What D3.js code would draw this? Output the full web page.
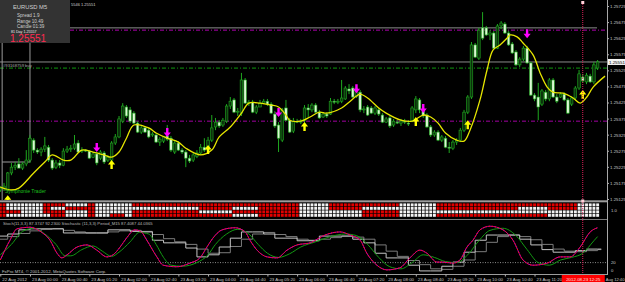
<!DOCTYPE html>
<html>
<head>
<meta charset="utf-8">
<script src="https://cdnjs.cloudflare.com/ajax/libs/d3/7.8.5/d3.min.js"></script>
<style>
  body { margin: 0; background: #000; }
  svg { display: block; font-family: 'Liberation Sans', Arial, sans-serif; }
</style>
</head>
<body>
<svg id="chart" width="625" height="282"></svg>
<script>
// EURUSD M5, 22 Aug 23:20 .. 23 Aug 12:45
const open = [
  1.25153,1.25159,1.25153,1.25206,1.25224,1.25234,1.25221,1.25234,1.25246,1.25308,
  1.25277,1.25271,1.25280,1.25286,1.25246,1.25224,1.25237,1.25230,1.25274,1.25280,
  1.25283,1.25299,1.25274,1.25277,1.25274,1.25255,1.25265,1.25252,1.25268,1.25246,
  1.25246,1.25299,1.25318,1.25367,1.25411,1.25402,1.25392,1.25361,1.25333,1.25346,
  1.25339,1.25324,1.25324,1.25302,1.25305,1.25321,1.25314,1.25271,1.25299,1.25277,
  1.25271,1.25252,1.25246,1.25258,1.25268,1.25286,1.25277,1.25308,1.25349,1.25364,
  1.25355,1.25367,1.25414,1.25433,1.25395,1.25392,1.25495,1.25423,1.25426,1.25395,
  1.25411,1.25423,1.25429,1.25420,1.25389,1.25355,1.25308,1.25408,1.25370,1.25336,
  1.25367,1.25364,1.25370,1.25408,1.25402,1.25417,1.25395,1.25380,1.25389,1.25389,
  1.25429,1.25426,1.25429,1.25436,1.25467,1.25470,1.25445,1.25457,1.25402,1.25411,
  1.25408,1.25392,1.25402,1.25386,1.25364,1.25377,1.25355,1.25364,1.25361,1.25367,
  1.25361,1.25367,1.25402,1.25433,1.25402,1.25386,1.25349,1.25324,1.25333,1.25308,
  1.25314,1.25286,1.25283,1.25302,1.25308,1.25339,1.25395,1.25442,1.25604,1.25563,
  1.25657,1.25657,1.25635,1.25641,1.25594,1.25663,1.25669,1.25641,1.25607,1.25582,
  1.25542,1.25560,1.25594,1.25548,1.25448,1.25442,1.25420,1.25457,1.25436,1.25495,
  1.25442,1.25442,1.25451,1.25433,1.25420,1.25439,1.25470,1.25504,1.25489,1.25507,
  1.25489,1.25532
];
const high = [
  1.25165,1.25175,1.25209,1.25237,1.25240,1.25252,1.25240,1.25277,1.25324,1.25314,
  1.25283,1.25286,1.25318,1.25293,1.25252,1.25246,1.25246,1.25283,1.25290,1.25293,
  1.25324,1.25308,1.25286,1.25280,1.25277,1.25271,1.25271,1.25277,1.25274,1.25262,
  1.25305,1.25327,1.25383,1.25423,1.25417,1.25411,1.25398,1.25367,1.25352,1.25352,
  1.25346,1.25333,1.25330,1.25318,1.25321,1.25355,1.25321,1.25305,1.25305,1.25283,
  1.25277,1.25262,1.25268,1.25277,1.25296,1.25314,1.25318,1.25386,1.25377,1.25370,
  1.25377,1.25420,1.25442,1.25439,1.25408,1.25517,1.25501,1.25433,1.25433,1.25417,
  1.25433,1.25436,1.25436,1.25426,1.25398,1.25364,1.25408,1.25433,1.25377,1.25377,
  1.25374,1.25374,1.25417,1.25420,1.25423,1.25423,1.25402,1.25395,1.25395,1.25439,
  1.25436,1.25436,1.25495,1.25476,1.25482,1.25476,1.25476,1.25464,1.25414,1.25417,
  1.25414,1.25414,1.25408,1.25392,1.25380,1.25383,1.25374,1.25370,1.25374,1.25374,
  1.25370,1.25414,1.25445,1.25439,1.25408,1.25392,1.25355,1.25339,1.25339,1.25324,
  1.25321,1.25302,1.25308,1.25314,1.25346,1.25402,1.25448,1.25613,1.25610,1.25657,
  1.25706,1.25663,1.25650,1.25647,1.25669,1.25678,1.25675,1.25647,1.25613,1.25588,
  1.25566,1.25601,1.25601,1.25551,1.25454,1.25486,1.25467,1.25464,1.25501,1.25501,
  1.25451,1.25457,1.25457,1.25439,1.25445,1.25476,1.25526,1.25514,1.25517,1.25514,
  1.25551,1.25557
];
const low = [
  1.25147,1.25150,1.25150,1.25199,1.25215,1.25221,1.25215,1.25227,1.25237,1.25268,
  1.25265,1.25258,1.25271,1.25240,1.25215,1.25218,1.25221,1.25227,1.25268,1.25271,
  1.25277,1.25268,1.25268,1.25271,1.25249,1.25252,1.25230,1.25246,1.25234,1.25240,
  1.25240,1.25293,1.25314,1.25361,1.25377,1.25361,1.25358,1.25330,1.25327,1.25330,
  1.25314,1.25318,1.25299,1.25290,1.25299,1.25305,1.25271,1.25265,1.25274,1.25265,
  1.25224,1.25237,1.25240,1.25252,1.25262,1.25271,1.25268,1.25302,1.25339,1.25346,
  1.25349,1.25361,1.25405,1.25392,1.25383,1.25383,1.25420,1.25414,1.25392,1.25389,
  1.25411,1.25420,1.25414,1.25389,1.25346,1.25271,1.25302,1.25367,1.25330,1.25330,
  1.25361,1.25358,1.25364,1.25377,1.25395,1.25392,1.25374,1.25377,1.25377,1.25386,
  1.25420,1.25420,1.25423,1.25433,1.25451,1.25439,1.25439,1.25395,1.25392,1.25383,
  1.25389,1.25386,1.25383,1.25361,1.25361,1.25346,1.25349,1.25358,1.25352,1.25358,
  1.25352,1.25364,1.25392,1.25392,1.25377,1.25346,1.25318,1.25318,1.25305,1.25302,
  1.25283,1.25268,1.25277,1.25293,1.25302,1.25333,1.25389,1.25436,1.25563,1.25557,
  1.25619,1.25632,1.25619,1.25591,1.25591,1.25653,1.25638,1.25601,1.25576,1.25538,
  1.25535,1.25554,1.25545,1.25445,1.25429,1.25370,1.25414,1.25429,1.25429,1.25439,
  1.25423,1.25439,1.25429,1.25389,1.25414,1.25433,1.25464,1.25486,1.25482,1.25486,
  1.25482,1.25526
];
const close = [
  1.25159,1.25165,1.25206,1.25224,1.25230,1.25221,1.25234,1.25246,1.25314,1.25277,
  1.25271,1.25280,1.25290,1.25246,1.25221,1.25237,1.25230,1.25274,1.25280,1.25283,
  1.25296,1.25271,1.25277,1.25274,1.25252,1.25265,1.25237,1.25271,1.25240,1.25255,
  1.25299,1.25318,1.25374,1.25414,1.25383,1.25367,1.25361,1.25333,1.25346,1.25333,
  1.25318,1.25327,1.25302,1.25311,1.25318,1.25311,1.25277,1.25299,1.25277,1.25271,
  1.25252,1.25243,1.25262,1.25268,1.25286,1.25277,1.25308,1.25346,1.25364,1.25352,
  1.25370,1.25414,1.25429,1.25395,1.25398,1.25495,1.25423,1.25426,1.25395,1.25411,
  1.25423,1.25429,1.25420,1.25392,1.25352,1.25314,1.25402,1.25370,1.25333,1.25367,
  1.25364,1.25367,1.25408,1.25402,1.25417,1.25395,1.25377,1.25389,1.25383,1.25429,
  1.25426,1.25429,1.25439,1.25470,1.25461,1.25442,1.25470,1.25402,1.25405,1.25386,
  1.25392,1.25408,1.25389,1.25364,1.25374,1.25352,1.25367,1.25361,1.25367,1.25364,
  1.25358,1.25408,1.25436,1.25402,1.25383,1.25349,1.25324,1.25333,1.25308,1.25318,
  1.25286,1.25283,1.25302,1.25308,1.25339,1.25395,1.25442,1.25604,1.25566,1.25650,
  1.25625,1.25635,1.25641,1.25594,1.25663,1.25672,1.25641,1.25604,1.25579,1.25542,
  1.25560,1.25594,1.25548,1.25448,1.25436,1.25411,1.25461,1.25436,1.25495,1.25442,
  1.25429,1.25451,1.25433,1.25392,1.25439,1.25470,1.25514,1.25492,1.25510,1.25489,
  1.25542,1.25551
];

// yellow moving average (bar position, price)
const maBars = [0,3,5,9,12,14,17,19,22,25,28,30,32,34,36,40,42,45,48,50,54,57,59,62,65,67,70,73,75,77,78,81,83.5,86,88,92,94,96,97,99,102,104,108,111,114,116,118,120,123,125,126.6,129.3,131.2,132.8,134.7,136.6,137.4,139.3,140.9,143.6,145.5,147.4,149,151.7,154.4,156.3,158.1,159.8,163];
const maValues = [1.25162,1.25153,1.25159,1.25206,1.25240,1.25262,1.25246,1.25246,1.25277,1.25271,1.25262,1.25255,1.25271,1.25314,1.25355,1.25346,1.25330,1.25314,1.25302,1.25283,1.25262,1.25277,1.25318,1.25349,1.25392,1.25423,1.25423,1.25417,1.25411,1.25386,1.25370,1.25367,1.25380,1.25395,1.25392,1.25408,1.25426,1.25445,1.25451,1.25439,1.25408,1.25392,1.25370,1.25367,1.25386,1.25380,1.25361,1.25330,1.25308,1.25305,1.25339,1.25433,1.25526,1.25588,1.25604,1.25625,1.25635,1.25629,1.25610,1.25573,1.25517,1.25473,1.25457,1.25454,1.25439,1.25423,1.25442,1.25473,1.25507];

// signal arrows
const downBars = [26, 45, 75, 96, 114, 142];
const downPrices = [1.25271, 1.25318, 1.25380, 1.25454, 1.25392, 1.25625];
const upBars = [2, 30, 56, 82, 112, 126, 157];
const upPrices = [1.25137, 1.25246, 1.25293, 1.25364, 1.25380, 1.25370, 1.25464];

// levels and objects
const bidPrice = 1.25551;
const orderPrice = 1.25532;
const upperLevel = 1.25650;
const upperGray = 1.25657;
const lowerLevel = 1.25367;
const boxTop = 1.25610, boxBottom = 1.25240;
const cursorBar = 157;

const priceTicks = [1.25725,1.25675,1.25625,1.25575,1.25525,1.25475,1.25425,1.25375,1.25325,1.25275,1.25225,1.25175,1.25125];
const timeTickBars = [0,8,16,24,32,40,48,56,64,72,80,88,96,104,112,120,128,136,144];
const timeLabels = ['22 Aug 2012','23 Aug 00:00','23 Aug 00:40','23 Aug 01:20','23 Aug 02:00','23 Aug 02:40','23 Aug 03:20','23 Aug 04:00','23 Aug 04:40','23 Aug 05:20','23 Aug 06:00','23 Aug 06:40','23 Aug 07:20','23 Aug 08:00','23 Aug 08:40','23 Aug 09:20','23 Aug 10:00','23 Aug 10:40','23 Aug 11:20'];
const lastTimeLabel = 'Aug 12:40';
const cursorTime = '2012.08.23 12:25';

// red / white trend grid: [fromBar, toBar, rows top->bottom]
const gridSegments = [
  [0,2,'rrrr'],[2,6,'wwrw'],[6,12,'wwww'],[12,14,'rrrw'],[14,18,'rwrr'],[18,24,'wrww'],
  [24,26,'rrrr'],[26,30,'wwww'],[30,34,'wwwr'],[34,36,'wwww'],[36,54,'rwrr'],[54,63,'rrwr'],
  [63,70,'rwrw'],[70,81,'rrrr'],[81,89,'wwww'],[89,98,'rrww'],[98,108,'rwrr'],[108,118,'wwww'],
  [118,140,'rrwr'],[140,148,'rwwr'],[148,156,'rrww'],[156,162,'wwww']
];

// stochastic (11,3,3) main and signal
const stochBars = [0,2.6,4.5,8,11,13.4,15.3,16.6,18,20.7,23.4,26,28.7,30.4,32.3,34,36.3,38,39.5,42.2,43.9,47.6,51.1,53.8,55.7,57.3,59.8,63.3,66,67.3,69.2,71.9,74.6,77.3,80,83.5,87.5,91.6,94.3,97,98.8,101.5,104.2,107.7,110.4,113.1,115,117.7,119.3,122,123.9,125.8,127.4,129.3,132,135.5,138.2,140.9,143.6,147.4,150.9,153.6,156.3,159,161];
const stochMain = [25,63,85,88,79,63,38,29,35,50,54,44,31,35,50,67,83,79,63,31,15,12,19,29,50,67,83,87,79,63,44,31,29,44,54,58,73,79,73,63,38,15,6,10,29,44,38,21,21,19,25,50,63,83,90,83,63,25,15,19,31,31,50,79,87];
const signalBars = [0,3,6,9,12,15,17.5,19,22,25,27.5,30,32,35,37.5,40,42,44,46,49,53,56,58,61,64,67,69.5,72,75,78,81,85,89,93,96,99,102,105,108,111,114,117,120,123,126,129,132,135.5,139,142,145,148,151,154,157,160,161];
const stochSignal = [35,55,80,86,75,55,33,33,45,52,42,32,40,60,78,75,55,30,15,13,20,35,55,75,84,75,55,38,30,37,50,60,70,75,72,55,30,12,8,20,35,30,22,20,35,62,82,86,72,45,20,15,25,30,38,62,70];
// M15 stochastic, one value per 15 minute bar
const m15Main = [71,75,83,85,85,85,77,77,77,77,83,83,80,79,63,58,58,48,31,35,50,67,79,79,75,67,67,62,62,71,71,71,65,58,38,29,29,15,4,4,13,21,40,63,73,73,73,65,54,45,40,40,43,46,46];
const m15Signal = [65,70,76,81,84,85,82,79,77,77,79,81,82,80,74,66,60,55,46,38,39,51,65,75,78,74,70,65,63,65,68,71,69,65,54,42,32,24,16,8,7,13,25,41,59,70,73,70,64,55,46,42,41,43,45];

const svg = d3.select('#chart');
const W = 625, H = 282;
const plotRight = 607;
const font = "'Liberation Sans', Arial, sans-serif";

svg.append('rect').attr('width', W).attr('height', H).attr('fill', '#000');

const x = d3.scaleLinear().domain([0, 161]).range([0.3, 597.6]);
const y = d3.scaleLinear().domain([1.25125, 1.25725]).range([199, 6]);
const ys = d3.scaleLinear().domain([0, 100]).range([273, 221]);

svg.append('clipPath').attr('id', 'mainClip')
  .append('rect').attr('x', 0).attr('y', 0).attr('width', plotRight).attr('height', 200);
svg.append('clipPath').attr('id', 'stochClip')
  .append('rect').attr('x', 0).attr('y', 220).attr('width', plotRight).attr('height', 54);

const main = svg.append('g').attr('clip-path', 'url(#mainClip)');

// horizontal levels
main.append('line').attr('x1', 70).attr('x2', 597)
  .attr('y1', y(upperGray)).attr('y2', y(upperGray))
  .attr('stroke', '#8a8a8a').attr('stroke-width', 1);
main.append('line').attr('x1', 70).attr('x2', plotRight)
  .attr('y1', y(upperLevel)).attr('y2', y(upperLevel))
  .attr('stroke', '#b000b0').attr('stroke-dasharray', '4,2,1,2');
main.append('line').attr('x1', 0).attr('x2', plotRight)
  .attr('y1', y(bidPrice)).attr('y2', y(bidPrice))
  .attr('stroke', '#8a8a8a');
main.append('line').attr('x1', 0).attr('x2', plotRight)
  .attr('y1', y(orderPrice)).attr('y2', y(orderPrice))
  .attr('stroke', '#109a10').attr('stroke-dasharray', '4,2,1,2');
main.append('line').attr('x1', 0).attr('x2', plotRight)
  .attr('y1', y(lowerLevel)).attr('y2', y(lowerLevel))
  .attr('stroke', '#a000a0').attr('stroke-dasharray', '4,2,1,2');
main.append('text').attr('x', 3).attr('y', y(orderPrice) - 1.5)
  .attr('fill', '#a8a8a8').attr('font-size', 4.2).text('#93168759 buy');

// left box object
main.append('path')
  .attr('d', `M${x(0.5)},200 V${y(boxTop)} M${x(0.5)},${y(boxBottom)} H${x(8)} V${y(boxTop)}`)
  .attr('fill', 'none').attr('stroke', '#9a9a9a').attr('stroke-width', 1);

// candles
const bars = d3.range(open.length);
main.append('g').selectAll('line').data(bars).join('line')
  .attr('x1', i => x(i)).attr('x2', i => x(i))
  .attr('y1', i => y(high[i])).attr('y2', i => y(low[i]))
  .attr('stroke', '#1fa81f').attr('stroke-width', 1);
main.append('g').selectAll('rect').data(bars).join('rect')
  .attr('x', i => x(i) - 1.3).attr('width', 2.6)
  .attr('y', i => y(Math.max(open[i], close[i])))
  .attr('height', i => Math.max(0.8, Math.abs(y(open[i]) - y(close[i]))))
  .attr('fill', i => close[i] < open[i] ? '#dcf7d4' : '#0c300c')
  .attr('stroke', '#1fa81f').attr('stroke-width', 0.6);

// yellow MA
main.append('path')
  .datum(maBars.map((b, i) => [b, maValues[i]]))
  .attr('d', d3.line().x(d => x(d[0])).y(d => y(d[1])).curve(d3.curveCatmullRom))
  .attr('fill', 'none').attr('stroke', '#e6e600').attr('stroke-width', 1.3);

// arrows
main.append('g').selectAll('path').data(downBars).join('path')
  .attr('d', (b, i) => {
    const cx = x(b), t = y(downPrices[i]);
    return `M${cx - 1.2},${t - 9} h2.4 v4.5 h2.4 L${cx},${t} L${cx - 3.6},${t - 4.5} h2.4 Z`;
  })
  .attr('fill', '#ff00ff');
main.append('g').selectAll('path').data(upBars).join('path')
  .attr('d', (b, i) => {
    const cx = x(b), t = y(upPrices[i]);
    return `M${cx - 1.2},${t + 9} h2.4 v-4.5 h2.4 L${cx},${t} L${cx - 3.6},${t + 4.5} h2.4 Z`;
  })
  .attr('fill', '#ffff00');

main.append('text').attr('x', 5).attr('y', 193)
  .attr('fill', '#1cc01c').attr('font-size', 5).text('Symphonie Trader');

// info panel
svg.append('rect').attr('x', 0).attr('y', 0).attr('width', 70).attr('height', 43)
  .attr('fill', '#333333');
const info = [['EURUSD   M5', 13, 9, 5.8], ['Spread    1.9', 17, 16.5, 4.6],
  ['Range    10.49', 17, 22.5, 4.6], ['Candle   01:39', 17, 28.3, 4.6]];
svg.append('g').selectAll('text').data(info).join('text')
  .attr('x', d => d[1]).attr('y', d => d[2]).attr('font-size', d => d[3])
  .attr('fill', '#cfcfcf').text(d => d[0]);
svg.append('text').attr('x', 11).attr('y', 32.6).attr('font-size', 3.6)
  .attr('fill', '#f0f0f0').text('81 Day 1.25557');
svg.append('text').attr('x', 10).attr('y', 41.5).attr('font-size', 10)
  .attr('fill', '#ff2a50').text('1.25551');
svg.append('text').attr('x', 71).attr('y', 6).attr('font-size', 4)
  .attr('fill', '#d0d0d0').text('5546 1.25551');

// panel separators
svg.append('rect').attr('x', 0).attr('y', 200.3).attr('width', plotRight).attr('height', 2)
  .attr('fill', '#9c9c9c');
svg.append('line').attr('x1', 0).attr('x2', plotRight).attr('y1', 219.5).attr('y2', 219.5)
  .attr('stroke', '#7a7a7a');
svg.append('line').attr('x1', 0).attr('x2', plotRight).attr('y1', 274.5).attr('y2', 274.5)
  .attr('stroke', '#9c9c9c');

// trend grid
const rowsTop = 203.4, rowH = 3.5;
const cells = [];
gridSegments.forEach(([a, b, pat]) => {
  for (let i = a; i < b; i++) {
    for (let r = 0; r < 4; r++) cells.push({ i, r, red: pat[r] === 'r' });
  }
});
svg.append('g').selectAll('rect').data(cells).join('rect')
  .attr('x', d => x(d.i) - 1.4).attr('width', 2.9)
  .attr('y', d => rowsTop + d.r * rowH).attr('height', 2.9)
  .attr('fill', d => d.red ? '#e20000' : '#f2f2f2');
svg.append('text').attr('x', 611).attr('y', 211.5).attr('font-size', 4.2)
  .attr('fill', '#c8c8c8').text('1.0');

// stochastic window
const stoch = svg.append('g').attr('clip-path', 'url(#stochClip)');
stoch.append('line').attr('x1', 0).attr('x2', plotRight).attr('y1', ys(20)).attr('y2', ys(20))
  .attr('stroke', '#8a8a8a').attr('stroke-dasharray', '1,1.5');
const stepLine = d3.line().x(d => x(d[0])).y(d => ys(d[1])).curve(d3.curveStepAfter);
stoch.append('path')
  .datum(m15Signal.map((v, k) => [3 * k - 1, v]).concat([[162, m15Signal[m15Signal.length - 1]]]))
  .attr('d', stepLine).attr('fill', 'none').attr('stroke', '#7c7c7c').attr('stroke-width', 1);
stoch.append('path')
  .datum(m15Main.map((v, k) => [3 * k - 1, v]).concat([[162, m15Main[m15Main.length - 1]]]))
  .attr('d', stepLine).attr('fill', 'none').attr('stroke', '#c4c4c4').attr('stroke-width', 1);
const smooth = d3.line().x(d => x(d[0])).y(d => ys(d[1])).curve(d3.curveMonotoneX);
stoch.append('path').datum(signalBars.map((b, i) => [b, stochSignal[i]]))
  .attr('d', smooth).attr('fill', 'none').attr('stroke', '#139a13').attr('stroke-width', 1);
stoch.append('path').datum(stochBars.map((b, i) => [b, stochMain[i]]))
  .attr('d', smooth).attr('fill', 'none').attr('stroke', '#c000c0').attr('stroke-width', 1);
stoch.append('path').datum(stochBars.map((b, i) => [b, stochMain[i]]))
  .attr('d', smooth).attr('fill', 'none').attr('stroke', '#ff1010').attr('stroke-width', 1)
  .attr('stroke-dasharray', '1.5,1.5');
svg.append('text').attr('x', 3).attr('y', 225).attr('font-size', 4.2).attr('fill', '#b8b8b8')
  .text('Stoch(11,3,3) 87.3747 92.2300   Stochastic (11,3,3) Period_M15 87.4087 44.0365');
svg.append('text').attr('x', 2).attr('y', 272.5).attr('font-size', 4.3).attr('fill', '#c0c0c0')
  .text('FxPro MT4, \u00a9 2001-2012, MetaQuotes Software Corp.');
svg.append('text').attr('x', 611).attr('y', ys(20) + 1.5).attr('font-size', 4.2)
  .attr('fill', '#c8c8c8').text('20');
svg.append('text').attr('x', 611).attr('y', ys(0) - 1).attr('font-size', 4.2)
  .attr('fill', '#c8c8c8').text('0');

// cursor line
svg.append('line').attr('x1', x(cursorBar)).attr('x2', x(cursorBar)).attr('y1', 2).attr('y2', 274)
  .attr('stroke', '#e0205a').attr('stroke-dasharray', '1,1');
svg.append('rect').attr('x', x(cursorBar) - 1.5).attr('y', 1).attr('width', 3).attr('height', 3)
  .attr('fill', '#ffd0d8');
svg.append('rect').attr('x', x(cursorBar) - 1.5).attr('y', 199.5).attr('width', 3).attr('height', 3)
  .attr('fill', '#ffd0d8');

// price axis
const yAxis = svg.append('g').attr('transform', `translate(${plotRight},0)`)
  .call(d3.axisRight(y).tickValues(priceTicks).tickFormat(d3.format('.5f')).tickSize(2).tickPadding(1));
yAxis.select('.domain').remove();
yAxis.selectAll('line').attr('stroke', '#b0b0b0');
yAxis.selectAll('text').attr('fill', '#c8c8c8').attr('font-size', 4.4).attr('font-family', font);
svg.append('line').attr('x1', plotRight + 0.5).attr('x2', plotRight + 0.5).attr('y1', 0).attr('y2', 275)
  .attr('stroke', '#a8a8a8');

// bid label
svg.append('rect').attr('x', plotRight + 1).attr('y', y(bidPrice) - 3).attr('width', 17).attr('height', 6)
  .attr('fill', '#f4f4f4');
svg.append('text').attr('x', plotRight + 2).attr('y', y(bidPrice) + 1.6).attr('font-size', 4.4)
  .attr('fill', '#000').text(d3.format('.5f')(bidPrice));

// time axis
const xAxis = svg.append('g').attr('transform', 'translate(0,274.5)')
  .call(d3.axisBottom(x).tickValues(timeTickBars).tickFormat((d, i) => timeLabels[i]).tickSize(2).tickPadding(1));
xAxis.select('.domain').remove();
xAxis.selectAll('line').attr('stroke', '#b0b0b0');
xAxis.selectAll('text').attr('fill', '#c8c8c8').attr('font-size', 4.4).attr('text-anchor', 'start')
  .attr('dx', 1.5).attr('font-family', font);

svg.append('rect').attr('x', x(cursorBar) - 21).attr('y', 275).attr('width', 43).attr('height', 7)
  .attr('fill', '#ff0000');
svg.append('text').attr('x', x(cursorBar) + 0.5).attr('y', 280.5).attr('text-anchor', 'middle')
  .attr('font-size', 4.4).attr('fill', '#ffe0e0').text(cursorTime);
svg.append('text').attr('x', x(cursorBar) + 23).attr('y', 280.5)
  .attr('font-size', 4.1).attr('fill', '#c8c8c8').text(lastTimeLabel);
</script>
</body>
</html>
